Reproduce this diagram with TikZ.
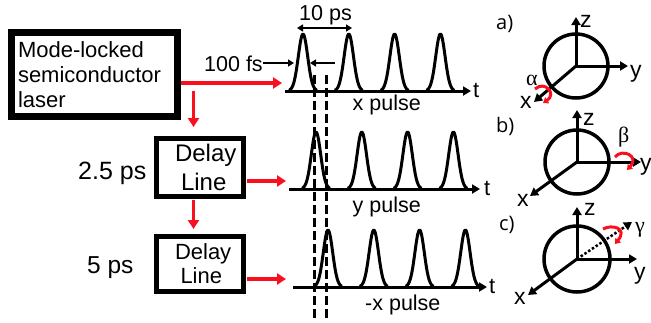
\documentclass[tikz,border=0pt]{standalone}
\usepackage{fontspec}
\setmainfont{Liberation Sans}
\newfontfamily\roundfont{Open Sans}
\newfontfamily\greekfont{Liberation Serif}
\usetikzlibrary{arrows.meta}
\definecolor{redline}{RGB}{250,15,30}
\newcommand{\fsz}[1]{\fontsize{#1}{#1}\selectfont}
\tikzset{
  x=1pt,y=-1pt,
  boxthick/.style={draw=black,line width=7pt,inner sep=0pt,fill=white},
  boxthin/.style={draw=black,line width=5pt,inner sep=0pt,fill=white},
  redarrow/.style={draw=redline,line width=3.5pt,-{Triangle[length=9pt,width=11pt]}},
  blackarrow/.style={draw=black,line width=2.2pt,-{Triangle[length=6pt,width=7pt]}},
  doublearrow/.style={draw=black,line width=2.2pt,{Triangle[length=6pt,width=7pt]}-{Triangle[length=6pt,width=7pt]}},
  axisarrow/.style={draw=black,line width=3pt,-{Triangle[length=8pt,width=9pt]}},
  pulseline/.style={draw=black,line width=3pt,line join=round},
  sphere/.style={draw=black,line width=3.5pt,circle,minimum size=64pt,inner sep=0pt},
  sphaxis/.style={draw=black,line width=3pt,-{Triangle[length=8pt,width=9pt]}},
  dotaxis/.style={draw=black,line width=2.5pt,dotted,-{Triangle[length=8pt,width=9pt]}},
  dashline/.style={draw=black,line width=3pt,dash pattern=on 9pt off 4pt},
  turn/.style={draw=redline,line width=3pt,-{Triangle[length=5pt,width=7pt]}},
  lab/.style={inner sep=0pt,anchor=base west,text=black},
}
\newcommand{\pulses}[3]{%
  \foreach \k in {0,1,2,3}{
    \draw[pulseline] plot[domain=-14:14,samples=41,smooth] ({#1+\k*45.8+\x},{#2-#3*exp(-\x*\x/44)});
  }
}
\begin{document}
\begin{tikzpicture}
\useasboundingbox (0,0) rectangle (651,322);

% dashed guides
\coordinate (d1t) at (314,75); \coordinate (d1b) at (314,318);
\coordinate (d2t) at (326,75); \coordinate (d2b) at (326,318);
\draw[dashline] (d1t) -- (d1b);
\draw[dashline] (d2t) -- (d2b);

% boxes
\node[boxthick,minimum width=165.5pt,minimum height=83.5pt,text width=165.5pt,align=left,font=\fontsize{22}{25}\selectfont] (laser) at (94.25,74.5)
  {\hspace*{6.5pt}Mode-locked\\\hspace*{6.5pt}semiconductor\\\hspace*{6.5pt}laser};
\node[boxthin,minimum width=87pt,minimum height=58pt,text width=87pt,align=left,font=\fontsize{24}{29}\selectfont] (delayA) at (200,167.5)
  {\hspace*{18.5pt}Delay\\\hspace*{24.5pt}Line};
\node[boxthin,minimum width=87pt,minimum height=54.5pt,text width=87pt,align=left,font=\fontsize{22}{24}\selectfont] (delayB) at (200,263.75)
  {\hspace*{18.5pt}Delay\\\hspace*{24pt}Line};

\node[lab] (delA) at (78,179) {\fsz{25}2.5 ps};
\node[lab] (delB) at (87,273) {\fsz{24.5}5 ps};

% red connectors
\coordinate (xin) at (282,83);
\coordinate (yin) at (286,181);
\coordinate (zin) at (286,279);
\coordinate (d1top) at (193.5,91);
\coordinate (d1end) at (193.5,127);
\coordinate (d2top) at (193.5,200);
\coordinate (d2end) at (193.5,229);
\draw[redarrow] (laser.east |- xin) -- (xin);
\draw[redarrow] (d1top) -- (d1end);
\draw[redarrow] (delayA.east |- yin) ++(1,0) -- (yin);
\draw[redarrow] (d2top) -- (d2end);
\draw[redarrow] (delayB.east |- zin) ++(1,0) -- (zin);

% pulse trains
\coordinate (ax1s) at (285,91); \coordinate (ax1e) at (471,91);
\coordinate (ax2s) at (289,189); \coordinate (ax2e) at (480,189);
\coordinate (ax3s) at (293,287); \coordinate (ax3e) at (487,287);
\pulses{303}{91}{57}
\pulses{316}{189}{57}
\pulses{328}{287}{57}
\draw[axisarrow] (ax1s) -- (ax1e);
\draw[axisarrow] (ax2s) -- (ax2e);
\draw[axisarrow] (ax3s) -- (ax3e);
\node[lab] (t1) at (473,97) {\fsz{22}t};
\node[lab] (t2) at (484,195) {\fsz{22}t};
\node[lab] (t3) at (489,293) {\fsz{22}t};
\node[lab] (xp) at (352.5,110) {\fsz{21.5}x pulse};
\node[lab] (yp) at (352.5,212) {\fsz{21.5}y pulse};
\node[lab] (mp) at (365,310) {\fsz{21.5}-x pulse};

% timing marks
\node[lab] (fs) at (204,71) {\fsz{21.5}100 fs};
\node[lab] (ps) at (299,20) {\fsz{21.6}10 ps};
\coordinate (fa) at (263,63); \coordinate (fb) at (294,63);
\coordinate (fc) at (335,63); \coordinate (fd) at (310,63);
\coordinate (pa) at (297,28); \coordinate (pb) at (352,28);
\draw[blackarrow] (fa) -- (fb);
\draw[blackarrow] (fc) -- (fd);
\draw[doublearrow] (pa) -- (pb);

% sphere a
\node[lab] (la) at (496,29) {\roundfont\fsz{20}a)};
\node[sphere] (sa) at (576,66) {};
\coordinate (saz) at (576,17); \coordinate (say) at (628,66); \coordinate (sax) at (534,102);
\draw[sphaxis] (sa.center) -- (saz);
\draw[sphaxis] (sa.center) -- (say);
\draw[sphaxis] (sa.center) -- (sax);
\node[lab] (az) at (580,27) {\fsz{23}z};
\node[lab] (ay) at (630,77) {\fsz{23}y};
\node[lab] (ax) at (520,108) {\fsz{23}x};
\node[lab] (aa) at (526,85) {\greekfont\fsz{22}α};
\coordinate (ra1) at (535,89); \coordinate (ra2) at (543,103);
\draw[turn] (ra1) .. controls (545,80) and (557,94) .. (ra2);

% sphere b
\node[lab] (lb) at (496,132) {\roundfont\fsz{20}b)};
\node[sphere] (sb) at (577,162) {};
\coordinate (sbz) at (577,110); \coordinate (sby) at (641,162); \coordinate (sbx) at (530,196);
\draw[sphaxis] (sb.center) -- (sbz);
\draw[sphaxis] (sb.center) -- (sby);
\draw[sphaxis] (sb.center) -- (sbx);
\node[lab] (bz) at (583,125) {\fsz{23}z};
\node[lab] (by) at (640,170) {\fsz{23}y};
\node[lab] (bx) at (517,206) {\fsz{23}x};
\node[lab] (bb) at (618,142) {\greekfont\fsz{22}β};
\coordinate (rb1) at (615,157); \coordinate (rb2) at (627,170);
\draw[turn] (rb1) .. controls (622,148) and (640,156) .. (rb2);

% sphere c
\node[lab] (lc) at (499,230) {\roundfont\fsz{20}c)};
\node[sphere,minimum size=66pt] (sc) at (577,259) {};
\coordinate (scz) at (577,207); \coordinate (scy) at (637,259); \coordinate (scx) at (528,295); \coordinate (scg) at (632,222);
\draw[sphaxis] (sc.center) -- (scz);
\draw[sphaxis] (sc.center) -- (scy);
\draw[sphaxis] (sc.center) -- (scx);
\draw[dotaxis] (sc.center) -- (scg);
\node[lab] (cz) at (584,215) {\fsz{23}z};
\node[lab] (cy) at (634,279) {\fsz{23}y};
\node[lab] (cx) at (514,304) {\fsz{23}x};
\node[lab] (cg) at (635,232) {\greekfont\fsz{22}γ};
\coordinate (rc1) at (603,229); \coordinate (rc2) at (615,244);
\draw[turn] (rc1) .. controls (612,224) and (628,228) .. (rc2);
\end{tikzpicture}
\end{document}
